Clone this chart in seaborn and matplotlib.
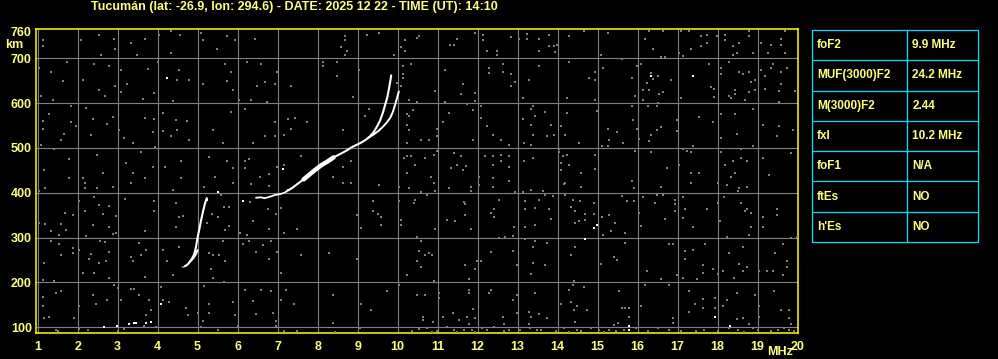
import matplotlib
matplotlib.use("Agg")
import matplotlib.pyplot as plt
import seaborn as sns
import pandas as pd

# ---------------- data ----------------
title = "Tucumán (lat: -26.9, lon: 294.6) - DATE: 2025 12 22 - TIME (UT): 14:10"
x_ticks = list(range(1, 21))
y_ticks = [100, 200, 300, 400, 500, 600, 700, 760]

table_params = ["foF2", "MUF(3000)F2", "M(3000)F2", "fxI", "foF1", "ftEs", "h'Es"]
table_values = ["9.9 MHz", "24.2 MHz", "2.44", "10.2 MHz", "N/A", "NO", "NO"]

# echo traces (MHz, km)
e_o_mhz = [4.68, 4.76, 4.84, 4.91, 4.95, 4.98, 5.01, 5.05, 5.09, 5.14, 5.19, 5.23]
e_o_km = [236, 241, 250, 262, 275, 290, 305, 322, 340, 360, 378, 388]
e_x_mhz = [4.80, 4.88, 4.95, 5.00]
e_x_km = [246, 253, 262, 272]
f1_mhz = [6.46, 6.58, 6.67, 6.80, 6.93, 7.05, 7.17]
f1_km = [389, 390, 388, 391, 395, 397, 400]
f2_o_mhz = [7.20, 7.35, 7.50, 7.65, 7.80, 7.95, 8.10, 8.25, 8.40, 8.55, 8.70, 8.86,
            9.07, 9.20, 9.30, 9.40, 9.48, 9.56, 9.63, 9.69, 9.74, 9.78, 9.81, 9.84]
f2_o_km = [402, 410, 420, 430, 441, 452, 462, 470, 479, 486, 493, 502,
           511, 518, 525, 535, 547, 561, 578, 597, 612, 630, 645, 662]
f2_thick_mhz = [7.65, 7.80, 7.95, 8.10, 8.25, 8.40]
f2_thick_km = [430, 441, 452, 462, 470, 479]
f2_x_mhz = [9.25, 9.40, 9.52, 9.63, 9.74, 9.82, 9.88, 9.93, 9.98, 10.03]
f2_x_km = [522, 530, 538, 547, 558, 568, 580, 594, 610, 626]

white_dots = [(2.67, 100), (2.98, 103), (3.28, 107), (3.40, 109), (3.46, 110), (3.71, 109),
              (3.83, 111), (4.08, 152), (4.23, 656), (7.13, 453), (16.33, 661), (17.39, 661),
              (14.90, 322), (14.98, 329), (14.68, 298), (15.79, 102), (15.79, 93), (17.94, 124),
              (18.32, 102), (5.23, 385), (6.13, 381), (7.27, 407), (5.52, 402)]

noise_a = [(1.13,740),(1.13,727),(2.08,740),(2.54,752),(2.92,743),(2.93,721),(3.33,734),(3.48,708),
    (3.68,743),(4.03,752),(4.33,760),(4.57,752),(4.33,712),(5.08,757),(5.13,740),(5.48,721),(5.73,749),
    (5.93,740),(6.43,743),(2.58,707),(1.03,678),(1.33,670),(1.73,692),(1.63,650),(2.13,652),(2.42,688),
    (2.78,683),(2.93,638),(2.54,629),(2.68,616),(3.08,674),(3.23,642),(3.08,625),(3.63,610),(3.75,676),
    (3.92,622),(4.02,692),(4.54,674),(4.48,652),(4.78,652),(4.38,605),(1.08,616),(1.38,606),(5.13,642),
    (5.73,650),(5.83,670),(5.68,688),(5.88,629),(6.23,692),(6.58,688),(6.68,648),(6.48,638),(6.93,642),
    (6.98,670),(6.03,606),(6.33,606),(6.73,602),(1.28,575),(1.13,560),(1.13,543),(1.83,594),(1.83,558),
    (1.96,548),(1.67,532),(1.58,518),(1.08,507),(2.21,590),(2.38,565),(2.33,528),(2.73,554),(2.88,570),
    (3.04,541),(3.17,522),(3.38,511),(3.68,566),(3.92,565),(3.88,535),(4.13,578),(4.13,537),(4.33,526),
    (4.46,562),(4.48,541),(4.73,560),(4.78,518),(5.38,540),(5.63,512),(5.83,580),(6.18,588),(6.93,557),
    (6.68,526),(6.93,526),(7.17,530),(7.27,565),(6.38,512),(3.93,502),(1.42,498),(1.78,476),(1.17,452),
    (1.78,432),(2.13,432),(2.48,485),(2.63,445),(3.21,467),(3.38,445),(3.58,490),(3.68,432),(3.88,457),
    (4.18,458),(4.58,472),(4.58,432),(5.29,479),(5.73,472),(5.43,436),(5.88,455),(6.18,472),(6.29,475),
    (6.18,455),(6.56,436),(6.78,443),(6.98,458),(7.17,462)]

noise_b = [(8.69,750),(8.69,740),(9.23,751),(9.54,757),(8.59,725),(8.73,717),(8.69,708),(9.92,708),
    (10.09,725),(10.19,717),(10.19,740),(10.48,745),(10.54,750),(11.30,730),(11.40,730),(11.48,743),
    (11.94,757),(12.13,752),(12.13,740),(12.23,717),(12.48,717),(12.48,708),(12.84,747),(13.23,755),
    (13.23,742),(13.03,743),(13.53,743),(13.53,717),(8.13,692),(8.13,683),(8.48,692),(9.03,674),
    (8.48,661),(7.34,638),(8.88,614),(10.13,683),(10.33,688),(10.13,665),(10.13,655),(10.09,638),
    (9.98,646),(10.94,627),(11.19,674),(11.63,642),(11.59,620),(11.94,623),(11.94,605),(12.29,678),
    (12.29,668),(12.63,688),(12.63,670),(12.84,665),(12.94,648),(12.84,638),(13.29,652),(13.13,612),
    (13.53,683),(10.29,606),(10.48,602),(11.19,602),(7.44,566),(7.73,558),(7.34,543),(9.29,588),
    (9.18,571),(8.63,540),(10.23,575),(10.28,572),(10.38,584),(10.23,552),(10.28,539),(10.23,512),
    (10.58,517),(10.78,517),(10.98,526),(10.98,543),(11.13,558),(11.29,578),(11.73,597),(11.88,584),
    (11.88,517),(12.09,593),(12.09,567),(12.23,548),(12.38,530),(12.58,517),(12.79,507),(13.15,512),
    (13.34,507),(13.38,593),(13.33,588),(13.13,565),(13.33,552),(13.38,530),(13.44,571),(7.59,481),
    (8.63,458),(8.38,436),(8.83,472),(10.15,477),(10.23,483),(10.33,481),(10.44,462),(10.69,477),
    (10.90,485),(10.84,436),(10.23,445),(10.98,494),(11.40,488),(11.59,481),(11.34,455),(11.48,462),
    (11.71,460),(11.63,451),(12.19,481),(12.38,481),(12.58,485),(12.79,481),(12.58,472),(12.38,462),
    (12.79,458),(13.15,472),(13.38,477),(12.03,436),(12.38,432)]

noise_c = [(13.79,752),(13.79,728),(13.90,727),(13.94,715),(13.98,730),(14.29,750),(14.65,762),
    (15.25,757),(15.08,708),(15.60,698),(16.29,762),(16.64,762),(16.19,743),(16.39,721),(16.58,702),
    (16.68,702),(17.08,760),(17.29,760),(17.58,750),(17.73,752),(17.73,734),(17.58,727),(17.33,721),
    (17.04,712),(17.14,706),(17.98,750),(18.19,752),(18.19,740),(18.39,728),(18.54,734),(18.48,712),
    (18.39,708),(18.79,762),(18.79,750),(18.89,712),(19.08,734),(19.33,730),(19.58,743),(19.58,730),
    (19.69,712),(19.69,760),(19.25,712),(14.29,691),(14.93,670),(14.79,656),(14.93,652),(15.13,678),
    (15.85,656),(15.98,683),(16.08,688),(16.33,668),(16.52,660),(16.23,646),(16.38,654),(16.83,652),
    (16.64,625),(16.54,621),(16.29,629),(16.14,629),(16.14,606),(15.94,616),(16.52,601),(17.83,637),
    (17.92,632),(17.92,614),(18.28,617),(17.79,688),(17.08,611),(18.08,678),(18.08,665),(18.29,692),
    (18.54,670),(18.64,665),(18.78,670),(18.83,648),(18.93,652),(18.93,629),(18.78,625),(18.43,629),
    (18.43,621),(18.33,612),(18.69,606),(19.08,674),(19.18,661),(19.33,678),(19.38,688),(19.58,670),
    (19.73,678),(19.58,642),(19.18,632),(19.54,627),(19.94,627),(19.54,602),(14.23,612),(14.93,606),
    (13.69,580),(13.83,552),(13.73,526),(14.08,549),(13.90,530),(14.23,577),(14.19,530),(14.54,512),
    (14.98,582),(15.25,543),(15.48,535),(15.28,517),(15.64,510),(15.85,593),(15.89,562),(15.98,543),
    (16.04,521),(16.29,516),(16.34,530),(16.48,540),(16.58,547),(16.27,593),(16.48,593),(16.98,562),
    (16.98,537),(17.54,570),(17.89,558),(18.08,575),(18.08,522),(18.43,575),(18.48,532),(18.89,588),
    (19.14,552),(19.54,550),(19.48,526),(19.89,540),(15.10,504),(15.25,504),(14.04,497),(14.04,490),
    (14.13,481),(14.23,485),(14.08,467),(14.29,462),(14.08,451),(14.93,485),(14.93,453),(14.58,445),
    (15.94,494),(16.33,490),(16.73,455),(17.03,462),(17.14,498),(17.24,494),(17.33,490),(17.39,504),
    (17.33,445),(17.54,445),(18.08,490),(18.19,462),(18.39,472),(18.58,477),(18.73,472),(18.58,498),
    (18.43,445),(18.33,436),(18.89,504),(19.14,477),(19.83,488),(19.29,440)]

noise_d = [(1.03,405),(1.19,410),(2.19,422),(2.19,411),(2.48,410),(2.89,413),(3.33,422),(4.38,407),
    (5.17,413),(5.88,422),(6.33,419),(6.79,415),(1.69,355),(2.19,359),(2.42,390),(2.54,372),(2.78,370),
    (2.63,353),(1.88,350),(2.04,381),(3.19,387),(2.96,348),(2.96,311),(2.78,323),(2.89,308),(2.38,328),
    (2.21,303),(1.71,316),(1.54,307),(1.33,314),(1.04,333),(1.18,331),(1.58,331),(3.69,314),(3.92,381),
    (3.90,359),(4.46,378),(4.54,346),(4.63,348),(4.46,323),(5.23,333),(5.35,352),(5.50,346),(5.67,368),
    (5.78,368),(5.69,318),(5.78,326),(6.06,311),(6.23,307),(6.38,337),(6.77,363),(7.08,366),(6.96,352),
    (7.17,311),(6.79,320),(1.33,292),(1.54,285),(1.88,277),(1.88,266),(1.58,261),(1.17,244),(2.03,273),
    (2.33,264),(2.28,253),(2.54,244),(2.78,268),(2.71,247),(2.57,293),(2.69,290),(3.33,256),(3.38,247),
    (3.54,288),(3.58,261),(3.71,273),(4.13,273),(4.23,249),(4.54,279),(2.13,221),(2.42,221),(2.78,210),
    (3.69,212),(4.38,216),(5.63,292),(5.29,266),(5.38,261),(5.54,261),(5.33,229),(5.38,210),(5.69,247),
    (6.13,285),(6.29,292),(6.46,268),(6.63,283),(6.83,292),(6.98,268),(6.79,253),(7.08,221),(1.13,206),
    (1.42,203),(5.67,202),(1.13,167),(1.46,176),(1.58,180),(1.13,147),(1.29,124),(1.17,121),(1.92,121),
    (2.04,147),(2.38,171),(2.46,152),(2.73,162),(2.92,195),(3.00,188),(3.08,162),(3.33,185),(3.42,185),
    (3.54,171),(3.79,162),(3.83,139),(3.71,128),(4.13,162),(4.28,156),(4.08,189),(4.71,144),(4.75,128),
    (5.02,133),(5.17,193),(5.29,152),(5.29,132),(5.13,115),(5.88,156),(5.93,128),(6.18,184),(6.38,159),
    (6.46,130),(6.58,184),(6.83,180),(6.88,133),(7.08,162),(7.21,184),(6.96,113),(4.63,234),(5.58,396),
    (6.30,380),(7.05,398),
    (1.46,94),(1.50,92),(2.04,97),(2.25,95),(3.00,92),(3.17,96),(3.67,102),(3.96,101),(5.08,100),
    (5.50,95),(6.00,104),(6.96,104),(7.17,91)]

noise_e = [(8.63,422),(8.83,422),(9.54,417),(10.04,413),(10.29,410),(10.90,422),(10.59,402),
    (10.73,395),(10.94,404),(11.29,410),(11.84,413),(11.84,404),(12.04,417),(12.38,413),(12.79,426),
    (12.94,402),(13.13,402),(13.33,407),(13.63,404),(9.38,381),(9.38,359),(9.50,353),(9.59,346),
    (8.98,350),(9.08,322),(9.59,329),(10.03,381),(10.09,340),(10.09,329),(10.40,378),(10.44,385),
    (10.94,320),(11.23,340),(11.44,337),(11.65,380),(11.69,374),(11.69,350),(11.84,320),(12.34,355),
    (12.40,363),(12.40,346),(12.54,385),(12.90,323),(13.19,381),(13.19,364),(13.19,324),(13.44,366),
    (13.44,329),(13.54,385),(7.48,320),(7.59,261),(8.29,266),(8.98,253),(10.48,301),(10.58,292),
    (10.54,270),(10.48,249),(10.59,234),(10.69,261),(10.79,266),(10.86,261),(10.23,216),(10.90,203),
    (11.79,208),(11.69,238),(11.94,230),(11.98,247),(12.09,247),(12.34,268),(12.54,299),(12.69,301),
    (12.88,303),(12.88,270),(13.19,296),(13.44,292),(13.38,279),(13.38,244),(13.33,219),(12.98,238),
    (10.04,195),(9.73,180),(8.38,171),(7.40,152),(9.08,152),(9.34,138),(10.48,171),(10.69,171),
    (11.04,176),(11.04,165),(11.79,184),(11.79,176),(12.34,184),(12.29,176),(12.88,162),(12.98,171),
    (13.44,176),(11.88,141),(11.38,132),(11.13,124),(10.63,124),(10.63,117),(10.88,111),(11.54,117),
    (11.73,122),(11.94,121),(11.79,107),(12.63,124),(12.65,107),(12.98,132),(13.29,134),(13.33,124),
    (13.54,130),(13.28,107),(8.38,109),
    (7.48,91),(8.44,90),(9.07,98),(10.36,91),(10.54,97),(10.73,98),(10.86,90),(10.98,91),(11.23,100),
    (11.40,95),(11.48,90),(11.65,95),(11.86,95),(11.94,90),(12.11,98),(12.23,95),(12.42,100),
    (12.65,91),(12.78,95),(13.07,95),(13.30,98),(13.48,95),(13.58,95)]

noise_f = [(14.15,420),(14.19,422),(14.58,413),(15.85,426),(15.90,411),(16.58,413),(17.33,422),
    (18.02,422),(18.23,417),(18.54,410),(18.73,413),(18.50,405),(13.69,396),(13.88,393),(14.19,395),
    (14.38,385),(14.33,368),(14.44,359),(14.57,381),(14.68,352),(14.68,340),(14.54,337),(14.90,378),
    (14.90,353),(13.79,363),(13.83,342),(14.43,333),(15.10,346),(15.29,350),(15.43,333),(15.33,314),
    (15.14,305),(15.68,311),(15.60,393),(15.73,381),(15.90,381),(16.04,355),(16.08,326),(16.14,390),
    (16.48,395),(16.64,395),(16.44,378),(16.68,342),(16.93,385),(16.93,375),(16.93,360),(17.14,390),
    (17.18,363),(17.14,344),(17.39,323),(17.73,363),(18.00,378),(18.17,390),(18.06,338),(18.23,301),
    (18.58,378),(18.69,360),(18.73,363),(18.83,355),(18.83,323),(18.79,307),(19.14,346),(19.14,323),
    (19.48,363),(19.48,350),(19.83,299),(19.98,301),(13.73,288),(13.69,240),(14.33,261),(14.44,279),
    (15.08,241),(15.40,256),(15.48,251),(15.68,288),(16.23,226),(16.58,208),(16.79,285),(16.89,285),
    (17.19,270),(17.19,252),(17.39,273),(17.68,285),(17.64,238),(17.64,221),(17.89,231),(18.00,219),
    (18.14,225),(18.29,266),(18.54,241),(18.64,279),(18.73,234),(18.64,225),(19.04,225),(19.23,225),
    (19.39,225),(19.43,266),(19.64,285),(19.73,247),(19.73,234),(19.64,216),(16.98,216),(17.13,210),
    (17.48,208),(18.40,210),(14.40,204),(14.65,189),(14.29,184),(14.38,194),(14.08,152),(14.33,156),
    (14.48,147),(14.40,139),(14.73,139),(14.44,112),(13.73,121),(15.54,180),(15.60,143),(15.69,143),
    (15.79,143),(15.79,124),(15.52,109),(15.42,106),(16.08,147),(16.19,194),(16.79,194),(16.89,121),
    (16.89,109),(17.29,182),(17.29,134),(17.43,152),(17.64,164),(17.64,143),(17.94,166),(17.94,143),
    (18.13,147),(18.23,162),(18.48,176),(18.48,119),(18.64,121),(18.93,171),(19.04,147),(19.04,124),
    (19.42,180),(19.58,139),(19.79,139),(19.79,121),(19.83,107),(18.79,107),
    (13.96,91),(14.17,98),(14.29,90),(14.48,95),(14.58,91),(14.83,98),(15.04,95),(15.17,90),
    (15.29,95),(15.46,91),(15.67,95),(15.96,98),(16.25,92),(16.50,98),(16.79,95),(17.08,92),
    (17.46,91),(17.67,95),(18.00,91),(18.29,98),(18.50,95),(18.67,90),(18.88,98),(19.00,95),
    (19.33,91),(19.50,95),(19.67,98),(19.79,95),(19.92,91)]

# ---------------- style ----------------
BG = "#000000"
GRAY = "#808080"
FRAME = "#ffff00"
TXT = "#ffff80"
CYAN = "#00e0ff"

sns.set_theme(style="dark")
plt.rcParams["font.family"] = ["Liberation Sans", "DejaVu Sans"]
plt.rcParams["font.weight"] = "bold"

W, H = 998, 359
fig = plt.figure(figsize=(W / 100, H / 100), dpi=100, facecolor=BG)
ax = fig.add_axes([36 / W, 1 - 333 / H, 762 / W, 304 / H])
ax.set_facecolor(BG)

noise = pd.DataFrame(noise_a + noise_b + noise_c + noise_d + noise_e + noise_f, columns=["mhz", "km"])
sns.scatterplot(data=noise, x="mhz", y="km", marker="s", s=3.2, color=GRAY,
                linewidth=0, ax=ax, zorder=3)

whites = pd.DataFrame(white_dots, columns=["mhz", "km"])
sns.scatterplot(data=whites, x="mhz", y="km", marker="s", s=4, color="white",
                linewidth=0, ax=ax, zorder=4)

for xs, ys, lw in [(e_o_mhz, e_o_km, 1.5), (e_x_mhz, e_x_km, 1.5), (f1_mhz, f1_km, 1.3),
                   (f2_o_mhz, f2_o_km, 1.5), (f2_thick_mhz, f2_thick_km, 3.2),
                   (f2_x_mhz, f2_x_km, 1.4)]:
    sns.lineplot(x=xs, y=ys, sort=False, estimator=None, color="white", linewidth=lw,
                 ax=ax, zorder=5)

ax.set_xlim(0.96, 20.01)
ax.set_ylim(87.3, 765.4)
ax.set_xticks(x_ticks)
ax.set_xticklabels([str(v) for v in x_ticks])
ax.set_yticks(y_ticks)
ax.set_yticklabels([str(v) for v in y_ticks])
ax.set_xlabel("")
ax.set_ylabel("")
ax.grid(True, color=GRAY, linewidth=0.8)
ax.get_ygridlines()[-1].set_visible(False)
ax.set_axisbelow(True)
ax.tick_params(axis="both", length=0, colors=TXT, labelsize=9)
ax.tick_params(axis="x", pad=5.5)
ax.tick_params(axis="y", pad=3)
for lab in ax.get_xticklabels() + ax.get_yticklabels():
    lab.set_fontweight("bold")
    lab.set_color(TXT)
for sp in ax.spines.values():
    sp.set_visible(True)
    sp.set_color(FRAME)
    sp.set_linewidth(1.1)

fig.text(294.7 / W, 1 - 7 / H, title, ha="center", va="center", color=TXT,
         fontsize=9, fontweight="bold")
fig.text(14 / W, 1 - 45 / H, "km", ha="center", va="center", color=TXT,
         fontsize=9, fontweight="bold")
fig.text(780 / W, 1 - 352 / H, "MHz", ha="center", va="center", color=TXT,
         fontsize=9, fontweight="bold")

# parameter table
tax = fig.add_axes([812 / W, 1 - 242 / H, 166 / W, 212 / H])
tax.set_xlim(0, 1)
tax.set_ylim(len(table_params), 0)
tax.axis("off")
for i in range(len(table_params) + 1):
    tax.plot([0, 1], [i, i], color=CYAN, linewidth=0.9, clip_on=False)
for xv in [0, (907 - 812) / 166, 1]:
    tax.plot([xv, xv], [0, len(table_params)], color=CYAN, linewidth=0.9, clip_on=False)
for i, (p, v) in enumerate(zip(table_params, table_values)):
    tax.text(0.03, i + 0.5, p, ha="left", va="center", color=TXT, fontsize=8.5,
             fontweight="bold")
    tax.text(0.605, i + 0.5, v, ha="left", va="center", color=TXT, fontsize=8.5,
             fontweight="bold")

fig.savefig("out.png", dpi=100, facecolor=BG)
